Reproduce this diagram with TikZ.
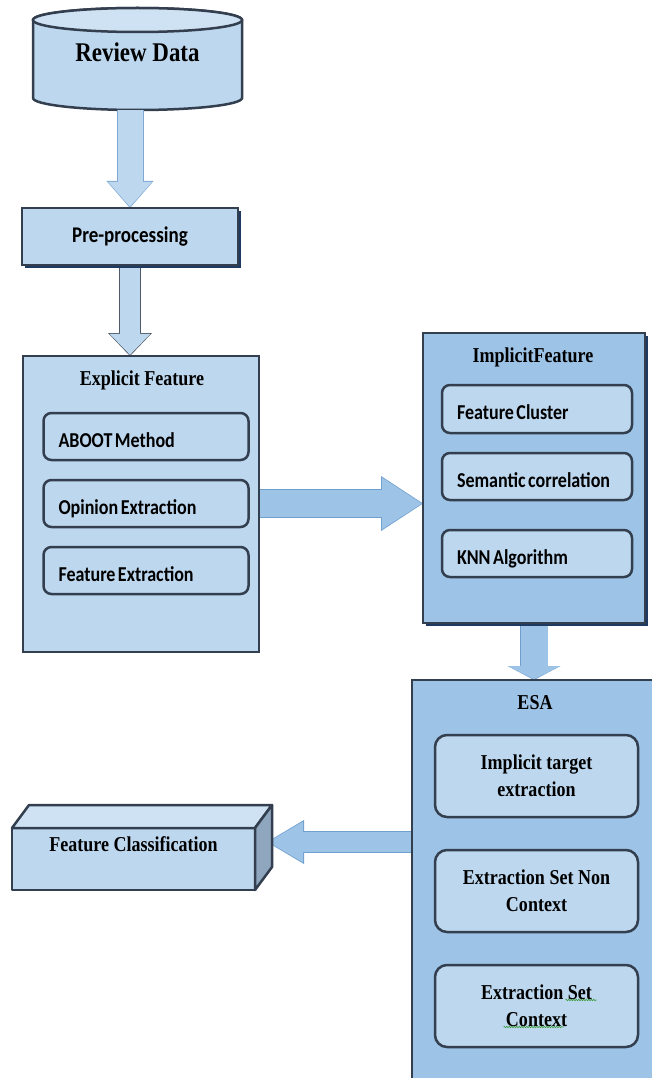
\documentclass[tikz,border=0pt]{standalone}
\usepackage{fontspec}
\setmainfont{Liberation Serif}[FakeStretch=0.85]
\newfontfamily\calibri{Carlito}[FakeStretch=0.85]
\usetikzlibrary{positioning, arrows.meta, shadows, backgrounds, decorations.pathmorphing}

\definecolor{paleblue}{HTML}{BDD7EE}
\definecolor{midblue}{HTML}{9DC3E6}
\definecolor{topblue}{HTML}{CFE2F3}
\definecolor{sidegray}{HTML}{8EA7BE}
\definecolor{boxline}{HTML}{333F4F}
\definecolor{shadowcol}{HTML}{1F3A60}
\definecolor{edgeblue}{HTML}{7FA9D4}
\definecolor{edgegray}{HTML}{505A66}
\definecolor{edgemid}{HTML}{6F9FCF}
\definecolor{spellgreen}{HTML}{3A9A3A}

\begin{document}
\begin{tikzpicture}[x=1pt, y=-1pt,
  every node/.style={outer sep=0pt},
  hdr/.style={font=\fontsize{21.2}{27}\selectfont\bfseries},
  groupbox/.style={draw=boxline, line width=2.5pt, fill=#1},
  shade/.style={general shadow={fill=shadowcol, shadow xshift=2.5pt, shadow yshift=-2.5pt}},
  itembox/.style={draw=boxline, line width=2.5pt, rounded corners=8pt, fill=paleblue,
    minimum height=47pt, text width=#1, inner xsep=15pt, align=left,
    font=\calibri\fontsize{21.2}{24}\selectfont\bfseries,
    execute at begin node={\spaceskip=2.5pt\relax},
    text height=25pt, text depth=4pt},
  esabox/.style={draw=boxline, line width=2.5pt, rounded corners=12pt, fill=paleblue,
    minimum width=203pt, minimum height=82pt, align=center, hdr},
  facet/.style={draw=boxline, line width=2.5pt, line join=round},
  squig/.style={draw=spellgreen, line width=0.6pt, decorate,
    decoration={snake, amplitude=0.7pt, segment length=2.5pt}},
  blockarrow/.style n args={4}{draw=#4, line width=#1,
    -{Triangle[width=#2, length=#3, line width=0pt]}}
]
\useasboundingbox (0,0) rectangle (652,1078);
\clip (0,0) rectangle (652,1078);

% source and pre-processing
\node[minimum width=209pt, minimum height=102pt, font=\fontsize{27}{30}\selectfont\bfseries,
  text height=16pt, text depth=10pt] (data) at (137.5,59) {Review Data};
\node[groupbox=paleblue, shade, minimum width=216pt, minimum height=57pt,
  font=\calibri\fontsize{22.4}{26}\selectfont\bfseries] (pre) at (130,236.5) {Pre-processing};

% explicit features
\node[groupbox=paleblue, minimum width=236pt, minimum height=296pt] (explicit) at (141,504) {};
\node[hdr] (exptitle) at (142,380) {Explicit Feature};
\node[itembox=175pt] (aboot) at (146,436.5) {ABOOT Method};
\node[itembox=175pt, below=20pt of aboot] (opin) {Opinion Extraction};
\node[itembox=175pt, below=20pt of opin] (featx) {Feature Extraction};

% implicit features
\node[groupbox=midblue, shade, minimum width=222pt, minimum height=290pt] (implicit) at (534,478) {};
\node[hdr] (imptitle) at (533,357) {ImplicitFeature};
\node[itembox=160pt, minimum height=48pt] (fclus) at (537,409) {Feature Cluster};
\node[itembox=160pt, below=20pt of fclus] (sem) {Semantic correlation};
\node[itembox=160pt, below=30pt of sem] (knn) {KNN Algorithm};

% ESA
\node[groupbox=midblue, minimum width=288pt, minimum height=399pt] (esa) at (556,879.5) {};
\node[hdr] (esatitle) at (535,703) {ESA};
\node[esabox] (itx) at (536.5,776) {Implicit target\\extraction};
\node[esabox, below=33pt of itx] (esn) {Extraction Set Non\\Context};
\node[esabox, below=33pt of esn] (esc) {Extraction Set\\Context};
\draw[squig] ([shift={(29,-6)}]esc.center) -- ++(31,0);
\draw[squig] ([shift={(-33,21)}]esc.center) -- ++(60,0);

% classification block
\node[facet, fill=paleblue, minimum width=243pt, minimum height=62pt, hdr,
  text height=12pt, text depth=28pt] (fc) at (133.5,859) {Feature Classification};
\draw[facet, fill=topblue] (fc.north west) -- ++(17,-23) -- ++(243,0) -- (fc.north east) -- cycle;
\draw[facet, fill=sidegray] (fc.north east) -- ++(17,-23) -- ++(0,62) -- (fc.south east) -- cycle;
\coordinate (fcside) at ([shift={(12,-17)}]fc.east);

\begin{scope}[on background layer]
  \draw[draw=boxline, line width=2.5pt, fill=paleblue]
    ([yshift=-12pt]data.north west) -- ([yshift=12pt]data.south west)
    arc[start angle=180, end angle=360, x radius=104.5pt, y radius=12pt]
    -- ([yshift=-12pt]data.north east)
    arc[start angle=0, end angle=180, x radius=104.5pt, y radius=12pt] -- cycle;
  \draw[draw=boxline, line width=2.5pt, fill=topblue]
    ([yshift=-12pt]data.north) ellipse [x radius=104.5pt, y radius=12pt];

  \draw[blockarrow={27pt}{47pt}{27pt}{edgeblue}] (pre.north |- data.south) -- (pre.north);
  \draw[blockarrow={25pt}{44pt}{25pt}{paleblue}, shorten >=1.2pt] (pre.north |- data.south) -- (pre.north);

  \draw[blockarrow={22pt}{44pt}{23pt}{edgegray}] (pre.south) -- (pre.south |- explicit.north);
  \draw[blockarrow={20pt}{41pt}{21pt}{paleblue}, shorten >=1.2pt] (pre.south) -- (pre.south |- explicit.north);

  \draw[blockarrow={29pt}{55pt}{42pt}{edgemid}] (opin.east -| explicit.east) -- (opin.east -| implicit.west);
  \draw[blockarrow={27pt}{52pt}{40pt}{midblue}, shorten >=1.2pt] (opin.east -| explicit.east) -- (opin.east -| implicit.west);

  \draw[blockarrow={28pt}{53pt}{14pt}{edgemid}] (implicit.south) -- (implicit.south |- esa.north);
  \draw[blockarrow={27pt}{52pt}{13pt}{midblue}, shorten >=0.8pt] (implicit.south) -- (implicit.south |- esa.north);

  \draw[blockarrow={22pt}{44pt}{37pt}{edgemid}] (fcside -| esa.west) -- (fcside);
  \draw[blockarrow={20pt}{41pt}{35pt}{midblue}, shorten >=1.2pt] (fcside -| esa.west) -- (fcside);
\end{scope}
\end{tikzpicture}
\end{document}
